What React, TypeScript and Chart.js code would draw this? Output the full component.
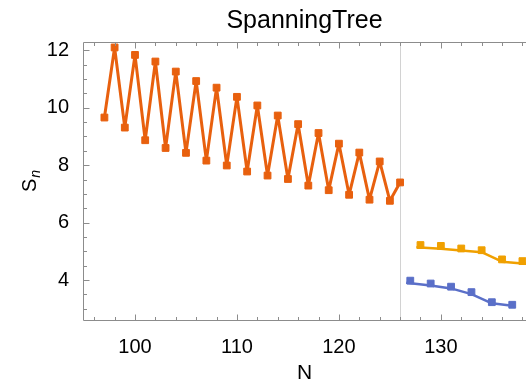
import React, { useEffect, useRef } from 'react';
import { Chart, registerables } from 'chart.js';

Chart.register(...registerables);

// ---- data ----
const mainN = [97, 98, 99, 100, 101, 102, 103, 104, 105, 106, 107, 108, 109, 110, 111, 112, 113, 114, 115, 116, 117, 118, 119, 120, 121, 122, 123, 124, 125, 126];
const mainS = [9.66, 12.1, 9.31, 11.84, 8.87, 11.61, 8.6, 11.26, 8.43, 10.93, 8.16, 10.7, 7.99, 10.38, 7.78, 10.08, 7.64, 9.73, 7.52, 9.43, 7.29, 9.12, 7.13, 8.75, 6.97, 8.44, 6.8, 8.13, 6.76, 7.4];

const upperN = [128, 130, 132, 134, 136, 138];
const upperS = [5.22, 5.19, 5.1, 5.04, 4.72, 4.66];
const upperFitN = [127.6, 130, 132, 134, 136, 138, 138.5];
const upperFitS = [5.14, 5.09, 5.03, 4.97, 4.64, 4.58, 4.57];

const lowerN = [127, 129, 131, 133, 135, 137];
const lowerS = [3.98, 3.88, 3.77, 3.58, 3.23, 3.14];
const lowerFitN = [126.6, 129, 131, 133, 135, 137];
const lowerFitS = [3.91, 3.81, 3.71, 3.51, 3.19, 3.11];

const xMajorTicks = [100, 110, 120, 130];
const xMinorTicks = [96, 98, 102, 104, 106, 108, 112, 114, 116, 118, 122, 124, 126, 128, 132, 134, 136, 138];
const yMajorTicks = [4, 6, 8, 10, 12];
const yMinorTicks = [3, 3.5, 4.5, 5, 5.5, 6.5, 7, 7.5, 8.5, 9, 9.5, 10.5, 11, 11.5, 12.5];
const dividerN = 126;

const titleText = 'SpanningTree';
const xTitle = 'N';
const yTitleMain = 'S';
const yTitleSub = 'n';

const FONT = '"Liberation Sans", Arial, Helvetica, sans-serif';
const ORANGE = '#E8600E';
const YELLOW = '#F0A000';
const BLUE = '#5A6FC8';
const FRAME = '#8c8c8c';

const pts = (xs: number[], ys: number[]) => xs.map((x, i) => ({ x, y: ys[i] }));

const framePlugin = {
  id: 'frameTicks',
  beforeDatasetsDraw(chart: any) {
    const { ctx, chartArea: a, scales } = chart;
    const px = Math.round(scales.x.getPixelForValue(dividerN)) + 0.5;
    ctx.save();
    ctx.strokeStyle = '#d2d2d2';
    ctx.lineWidth = 1;
    ctx.beginPath();
    ctx.moveTo(px, a.top);
    ctx.lineTo(px, a.bottom);
    ctx.stroke();
    ctx.restore();
  },
  afterDraw(chart: any) {
    const { ctx, chartArea: a, scales } = chart;
    const xs = scales.x;
    const ys = scales.y;
    ctx.save();
    ctx.strokeStyle = FRAME;
    ctx.lineWidth = 1;
    const L = Math.round(a.left) + 0.5;
    const B = Math.round(a.bottom) + 0.5;
    const T = Math.round(a.top) + 0.5;
    ctx.beginPath();
    ctx.moveTo(L, T);
    ctx.lineTo(L, B);
    ctx.lineTo(a.right, B);
    ctx.moveTo(L, T);
    ctx.lineTo(a.right, T);
    ctx.stroke();
    const tickX = (v: number, len: number) => {
      const p = Math.round(xs.getPixelForValue(v)) + 0.5;
      if (p < a.left || p > a.right) return;
      ctx.moveTo(p, B);
      ctx.lineTo(p, B - len);
      ctx.moveTo(p, T);
      ctx.lineTo(p, T + len);
    };
    const tickY = (v: number, len: number) => {
      const p = Math.round(ys.getPixelForValue(v)) + 0.5;
      if (p < a.top || p > a.bottom) return;
      ctx.moveTo(L, p);
      ctx.lineTo(L + len, p);
    };
    ctx.beginPath();
    xMajorTicks.forEach((v) => tickX(v, 6));
    xMinorTicks.forEach((v) => tickX(v, 3.5));
    yMajorTicks.forEach((v) => tickY(v, 6));
    yMinorTicks.forEach((v) => tickY(v, 3.5));
    ctx.stroke();

    // y axis title: S with italic subscript n, rotated
    const cy = (a.top + a.bottom) / 2;
    ctx.translate(30, cy);
    ctx.rotate(-Math.PI / 2);
    ctx.fillStyle = '#000';
    ctx.textBaseline = 'middle';
    ctx.font = `20px ${FONT}`;
    const wS = ctx.measureText(yTitleMain).width;
    ctx.font = `italic 14px ${FONT}`;
    const wN = ctx.measureText(yTitleSub).width;
    const x0 = -(wS + wN + 1) / 2;
    ctx.font = `20px ${FONT}`;
    ctx.textAlign = 'left';
    ctx.fillText(yTitleMain, x0, 0);
    ctx.font = `italic 14px ${FONT}`;
    ctx.fillText(yTitleSub, x0 + wS + 1, 6);
    ctx.restore();
  },
};

export default function App() {
  const ref = useRef<HTMLCanvasElement | null>(null);

  useEffect(() => {
    if (!ref.current) return;
    const chart = new Chart(ref.current, {
      type: 'scatter',
      data: {
        datasets: [
          {
            data: pts(upperFitN, upperFitS),
            showLine: true,
            borderColor: YELLOW,
            borderWidth: 2.5,
            borderJoinStyle: 'round',
            pointRadius: 0,
          },
          {
            data: pts(lowerFitN, lowerFitS),
            showLine: true,
            borderColor: BLUE,
            borderWidth: 2.5,
            borderJoinStyle: 'round',
            pointRadius: 0,
          },
          {
            data: pts(mainN, mainS),
            showLine: true,
            borderColor: ORANGE,
            backgroundColor: ORANGE,
            borderWidth: 3,
            borderJoinStyle: 'round',
            pointStyle: 'rect',
            pointRadius: 4.8,
            pointBorderWidth: 1,
            pointBorderColor: ORANGE,
            pointBackgroundColor: ORANGE,
          },
          {
            data: pts(upperN, upperS),
            showLine: false,
            pointStyle: 'rect',
            pointRadius: 4.8,
            pointBorderWidth: 1,
            pointBorderColor: YELLOW,
            pointBackgroundColor: YELLOW,
          },
          {
            data: pts(lowerN, lowerS),
            showLine: false,
            pointStyle: 'rect',
            pointRadius: 4.8,
            pointBorderWidth: 1,
            pointBorderColor: BLUE,
            pointBackgroundColor: BLUE,
          },
        ],
      },
      options: {
        responsive: false,
        animation: false,
        devicePixelRatio: 1,
        layout: { padding: 0, autoPadding: false },
        plugins: {
          legend: { display: false },
          tooltip: { enabled: false },
          title: {
            display: true,
            text: titleText,
            fullSize: false,
            color: '#000',
            font: { family: FONT, size: 25, weight: 'normal' as any, lineHeight: 1.2 },
            padding: { top: 6, bottom: 6 },
          },
        },
        scales: {
          x: {
            type: 'linear',
            position: 'bottom',
            min: 94.9,
            max: 138.35,
            afterBuildTicks: (s: any) => {
              s.ticks = xMajorTicks.map((v) => ({ value: v }));
            },
            afterFit: (s: any) => {
              s.height = 64;
              s.paddingLeft = 0;
              s.paddingRight = 0;
            },
            grid: { display: false },
            border: { display: false },
            ticks: {
              autoSkip: false,
              maxRotation: 0,
              color: '#000',
              padding: 7,
              font: { family: FONT, size: 20, lineHeight: 1.2 },
            },
            title: {
              display: true,
              text: xTitle,
              color: '#000',
              font: { family: FONT, size: 21, lineHeight: 1 },
              padding: { top: 0, bottom: 0 },
            },
          },
          y: {
            type: 'linear',
            position: 'left',
            min: 2.61,
            max: 12.29,
            afterBuildTicks: (s: any) => {
              s.ticks = yMajorTicks.map((v) => ({ value: v }));
            },
            afterFit: (s: any) => {
              s.width = 83;
              s.paddingTop = 0;
              s.paddingBottom = 0;
            },
            grid: { display: false },
            border: { display: false },
            ticks: {
              autoSkip: false,
              color: '#000',
              padding: 6,
              font: { family: FONT, size: 20, lineHeight: 1.2 },
            },
          },
        },
      },
      plugins: [framePlugin],
    });
    return () => chart.destroy();
  }, []);

  return (
    <div style={{ position: 'absolute', left: 0, top: 0, width: 526, height: 384, background: '#fff' }}>
      <canvas ref={ref} width={526} height={384} style={{ width: 526, height: 384, display: 'block' }} />
    </div>
  );
}
